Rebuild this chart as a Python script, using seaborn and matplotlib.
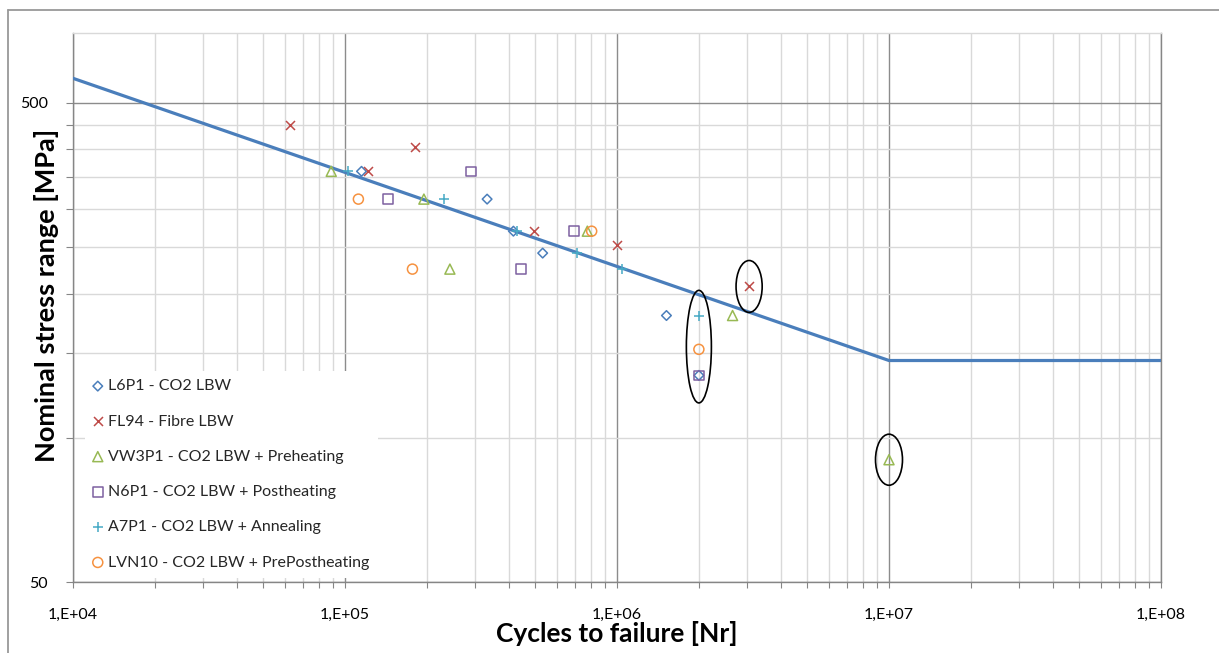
import numpy as np
import pandas as pd
import matplotlib
matplotlib.use("Agg")
import matplotlib.pyplot as plt
from matplotlib.patches import Ellipse
from matplotlib.lines import Line2D
import seaborn as sns

# ---------------- data ----------------
l6p1_n = [1.15e5, 3.33e5, 4.16e5, 5.33e5, 1.52e6, 2.0e6]
l6p1_s = [360, 315, 270, 243, 180, 135]

fl94_n = [6.3e4, 1.22e5, 1.81e5, 4.95e5, 1.0e6, 3.06e6]
fl94_s = [450, 360, 405, 270, 253, 207]

vw3p1_n = [8.9e4, 1.95e5, 2.43e5, 7.78e5, 2.66e6, 1.0e7]
vw3p1_s = [360, 315, 225, 270, 180, 90]

n6p1_n = [1.44e5, 2.9e5, 4.43e5, 6.95e5, 2.0e6]
n6p1_s = [315, 360, 225, 270, 135]

a7p1_n = [1.03e5, 2.31e5, 4.3e5, 7.1e5, 1.04e6, 2.0e6]
a7p1_s = [360, 315, 270, 243, 225, 180]

lvn10_n = [1.12e5, 1.77e5, 8.07e5, 2.0e6]
lvn10_s = [315, 225, 270, 153]

curve_n = [1e4, 1e7, 1e8]
curve_s = [563, 145, 145]

series_labels = ["L6P1 - CO2 LBW", "FL94 - Fibre LBW",
                 "VW3P1 - CO2 LBW + Preheating", "N6P1 - CO2 LBW + Postheating",
                 "A7P1 - CO2 LBW + Annealing", "LVN10 - CO2 LBW + PrePostheating"]

# highlighted points (ellipses): centre N, centre S
highlight_n = [2.0e6, 3.06e6, 1.0e7]
highlight_s = [155, 207, 90]

x_ticks = [1e4, 1e5, 1e6, 1e7, 1e8]
x_tick_labels = ["1,E+04", "1,E+05", "1,E+06", "1,E+07", "1,E+08"]
y_ticks = [50, 500]
y_tick_labels = ["50", "500"]
y_minor = [100, 150, 200, 250, 300, 350, 400, 450]

x_label = "Cycles to failure [Nr]"
y_label = "Nominal stress range [MPa]"

# ---------------- style ----------------
sns.set_theme(style="white")
plt.rcParams['font.family'] = ['Lato', 'DejaVu Sans']

W, H = 1219, 653
fig = plt.figure(figsize=(W / 100, H / 100), dpi=100)
L, R, T, B = 73, 1161, 33, 582
ax = fig.add_axes([L / W, 1 - B / H, (R - L) / W, (B - T) / H])
ax.set_xscale('log')
ax.set_yscale('log')
ax.set_xlim(1e4, 1e8)
ax.set_ylim(50, 700)

# grid
major_c, minor_c = '#8c8c8c', '#d9d9d9'
x_minor = [m * 10 ** k for k in range(4, 8) for m in range(2, 10)]
ax.set_xticks(x_ticks)
ax.set_xticklabels(x_tick_labels)
ax.set_xticks(x_minor, minor=True)
ax.set_yticks(y_ticks)
ax.set_yticklabels(y_tick_labels)
ax.set_yticks(y_minor, minor=True)
ax.yaxis.set_minor_formatter(matplotlib.ticker.NullFormatter())
ax.xaxis.set_minor_formatter(matplotlib.ticker.NullFormatter())
ax.grid(False)
ax.grid(True, which='major', axis='x', color=major_c, lw=1.0, zorder=0)
ax.grid(True, which='minor', axis='x', color=minor_c, lw=1.0, zorder=0)
ax.grid(True, which='major', axis='y', color=major_c, lw=1.0, zorder=0)
ax.grid(True, which='minor', axis='y', color=minor_c, lw=1.0, zorder=0)
ax.set_axisbelow(True)

for side in ['left', 'bottom', 'right']:
    ax.spines[side].set_color('#868686')
    ax.spines[side].set_linewidth(1.0)
ax.spines['top'].set_color(minor_c)
ax.spines['top'].set_linewidth(1.0)

ax.tick_params(axis='both', which='both', direction='out', color='#868686',
               width=0.8, labelsize=11.5, labelcolor='black')
ax.tick_params(axis='x', which='both', length=4, pad=15, bottom=True)
ax.tick_params(axis='y', which='both', length=5, pad=13, left=True)

# S-N curve
sns.lineplot(x=curve_n, y=curve_s, color='#4A7EBB', lw=2.3, sort=False,
             ax=ax, zorder=3, legend=False)

# data series
specs = [
    (l6p1_n, l6p1_s, 'D', '#4A7EBB', 24, True),
    (fl94_n, fl94_s, 'x', '#BE4B48', 42, False),
    (vw3p1_n, vw3p1_s, '^', '#98B954', 52, True),
    (n6p1_n, n6p1_s, 's', '#7D60A0', 48, True),
    (a7p1_n, a7p1_s, '+', '#46AAC5', 55, False),
    (lvn10_n, lvn10_s, 'o', '#F69240', 52, True),
]
for (xs, ys, mk, col, size, filled), lab in zip(specs, series_labels):
    if filled:
        sns.scatterplot(x=xs, y=ys, marker=mk, s=size, color=col,
                        facecolor='none', edgecolor=col, linewidth=1.1,
                        ax=ax, zorder=4, label=lab)
    else:
        sns.scatterplot(x=xs, y=ys, marker=mk, s=size, color=col,
                        linewidth=1.1, ax=ax, zorder=4, label=lab)

# ellipses around highlighted points
ell_w = [0.0230, 0.0240, 0.0248]
ell_h = [0.205, 0.0945, 0.093]
ly0, ly1 = np.log10(50), np.log10(700)
for n, s, w, h in zip(highlight_n, highlight_s, ell_w, ell_h):
    xf = (np.log10(n) - 4) / 4
    yf = (np.log10(s) - ly0) / (ly1 - ly0)
    ax.add_patch(Ellipse((xf, yf), w, h, transform=ax.transAxes,
                         fill=False, ec='black', lw=1.2, zorder=5))

# legend
leg = ax.legend(loc='lower left', bbox_to_anchor=(12 / (R - L), 0.008),
                borderaxespad=0, frameon=True, fancybox=False,
                facecolor='white', edgecolor='none', framealpha=1,
                fontsize=11.5, labelspacing=1.32, handlelength=0.6,
                handletextpad=0.35, borderpad=0.5, markerscale=1.0)
leg.set_zorder(6)

# axis labels
ax.set_xlabel(x_label, fontsize=19, fontweight='bold', color='black')
ax.set_ylabel(y_label, fontsize=19.5, fontweight='bold', color='black')
ax.xaxis.set_label_coords(0.5, (B - 633) / (B - T))
ax.xaxis.label.set_va('center')
ax.yaxis.set_label_coords((47 - L) / (R - L), (B - 295) / (B - T))
ax.yaxis.label.set_va('center')

# chart-area frame (partially visible)
fig.add_artist(Line2D([8 / W, 1.0], [1 - 10 / H, 1 - 10 / H],
                      transform=fig.transFigure, color='#999999', lw=1.3))
fig.add_artist(Line2D([8 / W, 8 / W], [0.0, 1 - 10 / H],
                      transform=fig.transFigure, color='#999999', lw=1.3))

fig.savefig('out.png', dpi=100, facecolor='white')
